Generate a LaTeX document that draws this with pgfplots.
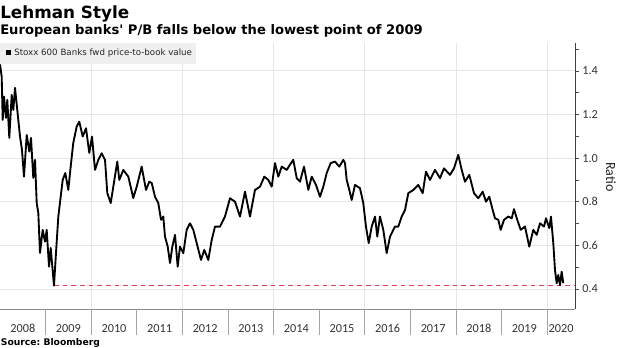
\documentclass[border=0pt]{standalone}
\usepackage{pgfplots}
\pgfplotsset{compat=1.18}
\usepackage{pgfplotstable}
\usepackage{fontspec}
\setmainfont{Carlito}
\newfontfamily\djv{DejaVu Sans}
\definecolor{lowred}{RGB}{232,62,90}
\definecolor{gridc}{RGB}{230,230,230}
\definecolor{legbg}{RGB}{239,239,239}

\pgfplotstableread{
x y
2008.000 1.430
2008.037 1.374
2008.059 1.175
2008.088 1.282
2008.132 1.184
2008.160 1.267
2008.204 1.093
2008.257 1.290
2008.292 1.221
2008.329 1.322
2008.379 1.221
2008.439 1.099
2008.482 1.038
2008.526 0.915
2008.586 1.106
2008.643 1.030
2008.680 1.093
2008.730 0.909
2008.768 0.992
2008.805 0.794
2008.840 0.749
2008.877 0.565
2008.936 0.671
2008.987 0.617
2009.024 0.671
2009.075 0.502
2009.112 0.588
2009.184 0.415
2009.228 0.565
2009.279 0.732
2009.331 0.823
2009.375 0.900
2009.432 0.932
2009.498 0.854
2009.550 0.961
2009.607 1.070
2009.682 1.145
2009.739 1.167
2009.814 1.099
2009.886 1.137
2009.958 1.024
2010.018 1.099
2010.083 0.946
2010.156 0.992
2010.230 1.022
2010.303 0.992
2010.353 0.840
2010.428 0.794
2010.485 0.869
2010.572 0.984
2010.616 0.900
2010.704 0.946
2010.814 0.915
2010.923 0.817
2010.998 0.869
2011.107 0.961
2011.202 0.854
2011.274 0.892
2011.327 0.886
2011.399 0.823
2011.471 0.794
2011.531 0.717
2011.581 0.732
2011.618 0.640
2011.678 0.594
2011.728 0.519
2011.779 0.594
2011.838 0.648
2011.897 0.502
2011.947 0.594
2012.020 0.564
2012.094 0.671
2012.167 0.701
2012.239 0.671
2012.314 0.610
2012.408 0.533
2012.480 0.579
2012.568 0.533
2012.643 0.625
2012.715 0.686
2012.825 0.686
2012.934 0.732
2013.044 0.816
2013.154 0.800
2013.263 0.732
2013.373 0.846
2013.482 0.732
2013.592 0.854
2013.702 0.869
2013.796 0.915
2013.884 0.900
2013.958 0.869
2014.031 0.977
2014.103 0.915
2014.178 0.961
2014.287 0.946
2014.360 0.970
2014.432 0.992
2014.507 0.908
2014.579 0.892
2014.667 0.961
2014.761 0.854
2014.836 0.915
2014.930 0.877
2015.018 0.823
2015.090 0.869
2015.164 0.931
2015.252 0.977
2015.346 0.984
2015.441 0.961
2015.529 0.992
2015.566 0.977
2015.603 0.900
2015.660 0.854
2015.713 0.808
2015.785 0.877
2015.895 0.862
2015.967 0.793
2016.026 0.686
2016.086 0.610
2016.151 0.686
2016.224 0.732
2016.274 0.640
2016.333 0.732
2016.406 0.671
2016.480 0.564
2016.553 0.640
2016.662 0.686
2016.735 0.686
2016.809 0.732
2016.882 0.762
2016.954 0.839
2017.064 0.854
2017.173 0.877
2017.270 0.839
2017.342 0.938
2017.430 0.900
2017.539 0.946
2017.649 0.908
2017.737 0.953
2017.868 0.923
2017.956 0.953
2018.050 1.015
2018.125 0.946
2018.197 0.892
2018.292 0.923
2018.395 0.839
2018.489 0.816
2018.586 0.846
2018.658 0.800
2018.730 0.823
2018.805 0.762
2018.855 0.724
2018.928 0.717
2018.980 0.671
2019.053 0.717
2019.147 0.732
2019.222 0.724
2019.272 0.766
2019.344 0.717
2019.419 0.671
2019.513 0.686
2019.607 0.594
2019.695 0.671
2019.770 0.648
2019.842 0.701
2019.930 0.686
2019.974 0.724
2020.046 0.679
2020.083 0.732
2020.134 0.610
2020.171 0.487
2020.208 0.426
2020.243 0.464
2020.281 0.418
2020.318 0.479
2020.353 0.426
}\banks

\pgfplotstableread{
x y
2009.184 0.415
2020.610 0.415
}\lowline

\begin{document}
\begin{tikzpicture}
\useasboundingbox (0,0) rectangle (465pt,261pt);
\begin{axis}[
  at={(0pt,29.25pt)}, anchor=south west,
  scale only axis, width=431.25pt, height=199.5pt,
  xmin=2008, xmax=2020.61, ymin=0.308, ymax=1.528,
  axis x line*=bottom, axis y line*=right,
  x axis line style={draw=black!45, -},
  y axis line style={draw=black!75, -},
  xtick={2010,2012,2014,2016,2018,2020}, xticklabels={},
  xmajorgrids, ymajorgrids,
  grid style={draw=gridc, line width=0.6pt},
  ytick={0.4,0.6,0.8,1.0,1.2,1.4},
  minor ytick={0.5,0.7,0.9,1.1,1.3,1.5},
  tick align=outside,
  major tick length=3pt, minor tick length=3pt,
  x tick style={draw=none},
  y tick style={draw=black!70, line width=0.5pt},
  /pgf/number format/assume math mode=true,
  yticklabel style={/pgf/number format/.cd, fixed, fixed zerofill, precision=1, /tikz/.cd, font=\fontsize{9.2}{10}\selectfont, text=black!80, anchor=west, xshift=-1pt},
  extra x ticks={2008.5,2009.5,2010.5,2011.5,2012.5,2013.5,2014.5,2015.5,2016.5,2017.5,2018.5,2019.5,2020.305},
  extra x tick labels={2008,2009,2010,2011,2012,2013,2014,2015,2016,2017,2018,2019,2020},
  extra x tick style={grid=none, major tick length=0pt, tick label style={font=\fontsize{9.2}{10}\selectfont, text=black!80, anchor=base, yshift=-18pt, inner sep=0pt}},
]
\addplot[draw=lowred, line width=0.9pt, dash pattern=on 3.5pt off 3pt] table[x=x,y=y] {\lowline};
\addplot[draw=black, line width=1.4pt, line join=round] table[x=x,y=y] {\banks};
\end{axis}
% year separator ticks below the axis
\foreach \i in {1,...,12} {
  \draw[black!35, line width=0.5pt] (\i*34.2pt,29.25pt) -- ++(0,-19.5pt);
}
% legend box (sized by its text)
\node[fill=legbg, anchor=north west, inner xsep=0pt, inner ysep=0pt, minimum height=15.5pt, font=\djv\fontsize{6.5}{8}\selectfont, text=black!85] at (0,229pt)
  {\hspace*{4.5pt}\textcolor{black}{\rule[0.2pt]{3.75pt}{3.75pt}}\hspace{2.25pt}Stoxx 600 Banks fwd price-to-book value\hspace*{3pt}};
% titles
\node[anchor=base west, inner sep=0pt, font=\djv\bfseries\fontsize{12.6}{14}\selectfont] at (0pt,246.75pt) {Lehman Style};
\node[anchor=base west, inner sep=0pt, font=\djv\bfseries\fontsize{9.85}{11}\selectfont] at (0pt,235pt) {European banks' P/B falls below the lowest point of 2009};
\node[anchor=base west, inner sep=0pt, font=\djv\bfseries\fontsize{6.9}{8}\selectfont] at (0.5pt,1.5pt) {Source:\ Bloomberg};
\node[rotate=-90, inner sep=0pt, font=\fontsize{10.5}{12}\selectfont, text=black!85] at (458.25pt,128.25pt) {Ratio};
\end{tikzpicture}
\end{document}
